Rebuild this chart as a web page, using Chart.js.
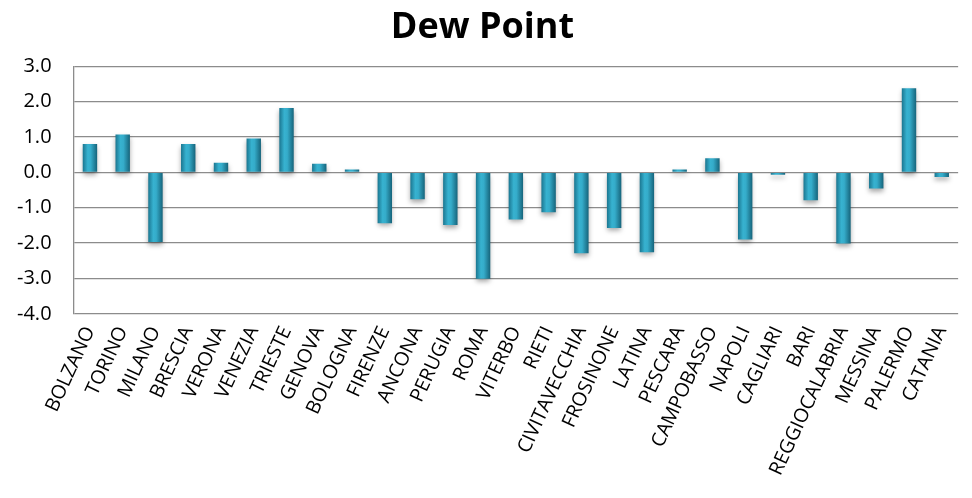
<!DOCTYPE html>
<html>
<head>
<meta charset="utf-8">
<script src="https://cdn.jsdelivr.net/npm/chart.js@4.4.1/dist/chart.umd.min.js"></script>
<style>
  html, body { margin: 0; padding: 0; background: #fff; }
  #wrap { width: 972px; height: 498px; }
</style>
</head>
<body>
<div id="wrap"><canvas id="c" width="972" height="498"></canvas></div>
<script>
const categories = ["BOLZANO","TORINO","MILANO","BRESCIA","VERONA","VENEZIA","TRIESTE","GENOVA","BOLOGNA","FIRENZE","ANCONA","PERUGIA","ROMA","VITERBO","RIETI","CIVITAVECCHIA","FROSINONE","LATINA","PESCARA","CAMPOBASSO","NAPOLI","CAGLIARI","BARI","REGGIOCALABRIA","MESSINA","PALERMO","CATANIA"];
const dewPoint = [0.8, 1.07, -1.97, 0.8, 0.27, 0.96, 1.82, 0.24, 0.08, -1.44, -0.76, -1.49, -3.01, -1.33, -1.13, -2.29, -1.57, -2.26, 0.08, 0.40, -1.9, -0.07, -0.79, -2.01, -0.46, 2.38, -0.13];
const yTicks = [3, 2, 1, 0, -1, -2, -3, -4];
const chartTitle = "Dew Point";

const FONT = "'Open Sans', 'DejaVu Sans', sans-serif";
const BAR_PCT = 0.44;

function barGradient(ctx) {
  const chart = ctx.chart;
  const xs = chart.scales && chart.scales.x;
  if (!xs || ctx.dataIndex === undefined) return '#2a9fbe';
  const cx = xs.getPixelForValue(ctx.dataIndex);
  const w = (xs.width / categories.length) * BAR_PCT;
  if (!isFinite(cx) || !isFinite(w) || w <= 0) return '#2a9fbe';
  const g = chart.ctx.createLinearGradient(cx - w / 2, 0, cx + w / 2, 0);
  g.addColorStop(0, '#1b7690');
  g.addColorStop(0.35, '#37b2d0');
  g.addColorStop(0.55, '#35acca');
  g.addColorStop(1, '#16647b');
  return g;
}

const shadowPlugin = {
  id: 'barShadow',
  beforeDatasetsDraw(chart) {
    const c = chart.ctx;
    c.save();
    c.shadowColor = 'rgba(0,0,0,0.35)';
    c.shadowBlur = 5;
    c.shadowOffsetX = 0;
    c.shadowOffsetY = 3;
  },
  afterDatasetsDraw(chart) {
    chart.ctx.restore();
  }
};

new Chart(document.getElementById('c'), {
  type: 'bar',
  data: {
    labels: categories,
    datasets: [{
      label: chartTitle,
      data: dewPoint,
      backgroundColor: barGradient,
      borderWidth: 0,
      barPercentage: BAR_PCT,
      categoryPercentage: 1.0
    }]
  },
  options: {
    responsive: false,
    animation: false,
    devicePixelRatio: 1,
    layout: { padding: { left: -5, right: 2, top: 6, bottom: 10 } },
    plugins: {
      legend: { display: false },
      tooltip: { enabled: false },
      title: {
        display: true,
        text: chartTitle,
        color: '#000',
        font: { family: FONT, size: 36, weight: 'bold' },
        padding: { top: 0, bottom: 17 }
      }
    },
    scales: {
      x: {
        grid: { display: false, drawTicks: false },
        border: { display: false },
        ticks: {
          color: '#000',
          font: { family: FONT, size: 19.5 },
          minRotation: 65,
          maxRotation: 65,
          autoSkip: false,
          padding: 9
        }
      },
      y: {
        min: -4,
        max: 3,
        afterBuildTicks(scale) {
          scale.ticks = yTicks.map(v => ({ value: v }));
        },
        grid: { color: '#8c8c8c', lineWidth: 1.3, drawTicks: false },
        border: { display: true, color: '#8c8c8c', width: 1.3 },
        ticks: {
          color: '#000',
          font: { family: FONT, size: 20 },
          padding: 22,
          callback: v => Number(v).toFixed(1)
        }
      }
    }
  },
  plugins: [shadowPlugin]
});
</script>
</body>
</html>
